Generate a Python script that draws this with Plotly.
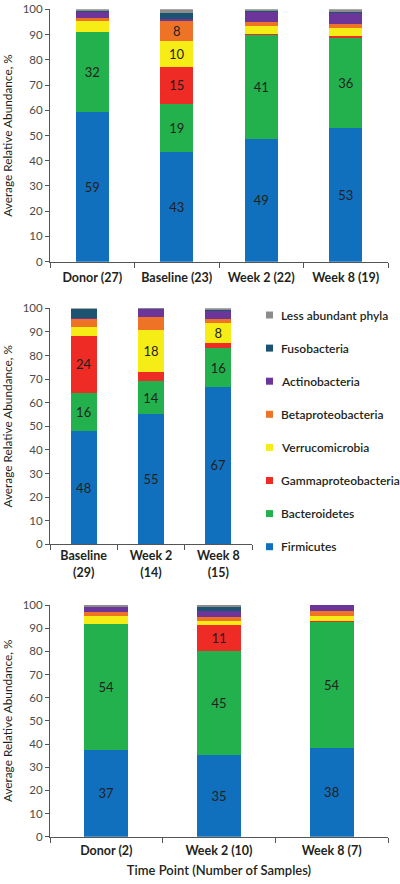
import plotly.graph_objects as go

# ---------------- data ----------------
phyla = ["Firmicutes", "Bacteroidetes", "Gammaproteobacteria", "Verrucomicrobia",
         "Betaproteobacteria", "Actinobacteria", "Fusobacteria", "Less abundant phyla"]
phyla_colors = ["#1070bd", "#22b14c", "#ee2b24", "#f6ec16", "#ee7326",
                "#6c3599", "#1c5370", "#8c8c8c"]

# Panel 1
p1_categories = ["Donor (27)", "Baseline (23)", "Week 2 (22)", "Week 8 (19)"]
p1_firmicutes = [59.2, 43.3, 48.6, 53.1]
p1_bacteroidetes = [31.9, 19.1, 41.4, 35.6]
p1_gamma = [0.1, 14.9, 0.2, 0.9]
p1_verruco = [4.3, 10.2, 3.0, 2.8]
p1_beta = [0.9, 8.0, 1.6, 1.9]
p1_actino = [2.6, 0.7, 4.2, 4.4]
p1_fuso = [0.4, 2.2, 0.2, 0.3]
p1_less = [0.6, 1.6, 0.8, 1.0]

# Panel 2
p2_categories = ["Baseline<br>(29)", "Week 2<br>(14)", "Week 8<br>(15)"]
p2_firmicutes = [48.1, 55.2, 66.8]
p2_bacteroidetes = [15.9, 14.0, 16.2]
p2_gamma = [24.4, 3.7, 2.4]
p2_verruco = [3.5, 17.9, 8.2]
p2_beta = [3.8, 5.5, 1.9]
p2_actino = [0.3, 3.3, 3.5]
p2_fuso = [3.6, 0.3, 0.1]
p2_less = [0.4, 0.1, 0.9]

# Panel 3
p3_categories = ["Donor (2)", "Week 2 (10)", "Week 8 (7)"]
p3_firmicutes = [37.4, 35.3, 38.3]
p3_bacteroidetes = [54.3, 44.8, 54.4]
p3_gamma = [0.0, 11.4, 0.4]
p3_verruco = [3.6, 1.4, 2.1]
p3_beta = [1.8, 1.9, 2.3]
p3_actino = [2.2, 2.8, 2.5]
p3_fuso = [0.0, 1.8, 0.0]
p3_less = [0.7, 0.6, 0.0]

y_ticks = [0, 10, 20, 30, 40, 50, 60, 70, 80, 90, 100]
y_title = "Average Relative Abundance, %"
x_title = "Time Point (Number of Samples)"

panels = [
    (p1_categories, [p1_firmicutes, p1_bacteroidetes, p1_gamma, p1_verruco,
                     p1_beta, p1_actino, p1_fuso, p1_less]),
    (p2_categories, [p2_firmicutes, p2_bacteroidetes, p2_gamma, p2_verruco,
                     p2_beta, p2_actino, p2_fuso, p2_less]),
    (p3_categories, [p3_firmicutes, p3_bacteroidetes, p3_gamma, p3_verruco,
                     p3_beta, p3_actino, p3_fuso, p3_less]),
]

# ---------------- layout geometry (page pixels; body margin removed) ----------------
W, H = 400, 884
FONT = "Lato"


def px_x(p):
    return p / W


def px_y(p):
    return 1 - p / H


# (x_left, x_right, y_top(100), y_bottom(0)) in page pixels
panel_px = [(50, 388, 9.3, 261.7), (50, 252, 308.3, 544.3), (50, 388, 605, 836.7)]
xlabel_standoff = [4, 0, 2]

fig = go.Figure()

for i, (cats, series) in enumerate(panels):
    ax = "" if i == 0 else str(i + 1)
    for name, color, vals in zip(phyla, phyla_colors, series):
        labels = [f"{round(v)}" if v >= 7.5 else "" for v in vals]
        fig.add_trace(go.Bar(
            x=cats, y=vals, name=name, marker=dict(color=color, line=dict(width=0)),
            text=labels, textposition="inside", insidetextanchor="middle",
            textangle=0, constraintext="none",
            textfont=dict(family=FONT, size=13, color="#231f20"),
            xaxis="x" + ax, yaxis="y" + ax, showlegend=False, hoverinfo="skip",
        ))

    xl, xr, yt, yb = panel_px[i]
    xdom = [px_x(xl), px_x(xr)]
    ydom = [px_y(yb), px_y(yt)]
    xaxis = dict(
        domain=xdom, anchor="y" + ax, showline=True, linecolor="#555", linewidth=1,
        ticks="outside", tickson="boundaries", ticklen=5, tickcolor="#555",
        ticklabelstandoff=xlabel_standoff[i],
        showgrid=False, zeroline=False, fixedrange=True, automargin=False,
        tickfont=dict(family=FONT, size=12.5, color="#231f20", weight="bold"),
    )
    if i == 2:
        xaxis["title"] = dict(text=x_title, standoff=9,
                              font=dict(family=FONT, size=13, color="#231f20", weight=600))
    yaxis = dict(
        domain=ydom, anchor="x" + ax, range=[0, 100], tickvals=y_ticks,
        showline=True, linecolor="#555", linewidth=1, ticks="outside", ticklen=4,
        tickcolor="#555", showgrid=False, zeroline=False, fixedrange=True, automargin=False,
        tickfont=dict(family=FONT, size=11.5, color="#4a4a4a"),
        title=dict(text=y_title, standoff=8, font=dict(family=FONT, size=11.8, color="#231f20")),
    )
    fig.update_layout(**{"xaxis" + ax: xaxis, "yaxis" + ax: yaxis})

# ---------------- manual legend (next to panel 2) ----------------
legend_top_px, legend_step_px = 315, 33.1
shapes, annotations = [], []
for k, (name, color) in enumerate(zip(reversed(phyla), reversed(phyla_colors))):
    yc = legend_top_px + k * legend_step_px
    shapes.append(dict(type="rect", xref="paper", yref="paper",
                       x0=px_x(266), x1=px_x(273), y0=px_y(yc + 3.5), y1=px_y(yc - 3.5),
                       fillcolor=color, line=dict(width=0)))
    annotations.append(dict(text=name, xref="paper", yref="paper", x=px_x(279), y=px_y(yc),
                            xanchor="left", yanchor="middle", showarrow=False,
                            font=dict(family=FONT, size=12, color="#231f20", weight=600)))

fig.update_layout(
    width=W, height=H, margin=dict(l=0, r=0, t=0, b=0),
    paper_bgcolor="white", plot_bgcolor="white",
    barmode="stack", bargap=0.61, showlegend=False,
    shapes=shapes, annotations=annotations,
    font=dict(family=FONT, color="#231f20"),
)

fig.write_html("out.html", config={"displayModeBar": False},
               post_script="document.body.style.margin='0';document.body.style.overflow='hidden';")
